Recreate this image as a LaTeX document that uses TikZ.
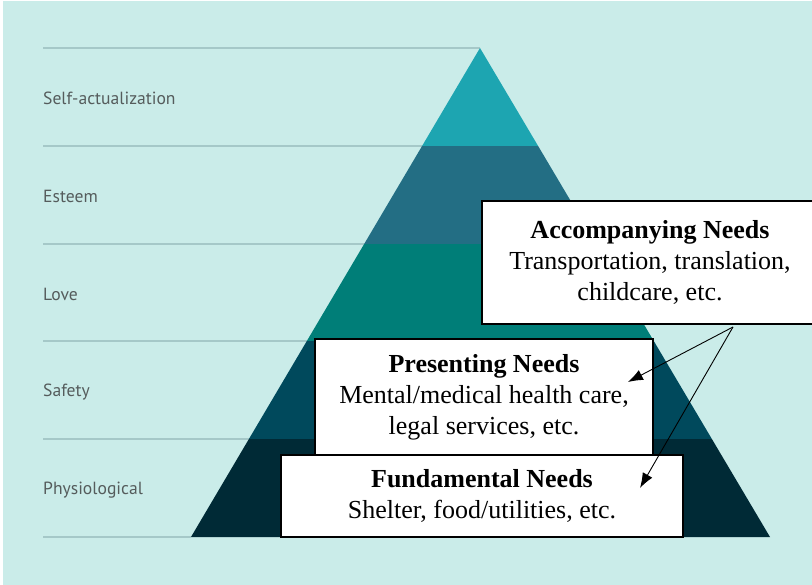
\documentclass[tikz,border=0pt]{standalone}
\usepackage{fontspec}
\setmainfont{Liberation Serif}
\newfontfamily\levelfont{PT Sans}
\usepackage{xcolor}
\usepackage{tikz}
\usetikzlibrary{arrows.meta}

\definecolor{bgcol}{RGB}{202,236,233}
\definecolor{selfcol}{RGB}{29,165,177}
\definecolor{esteemcol}{RGB}{35,110,132}
\definecolor{lovecol}{RGB}{0,126,120}
\definecolor{safetycol}{RGB}{0,73,92}
\definecolor{physcol}{RGB}{0,42,54}
\definecolor{rulecol}{RGB}{165,200,200}
\definecolor{levelcol}{RGB}{85,92,92}

\tikzset{
  rule/.style={rulecol, line width=2pt},
  levellabel/.style={anchor=west, inner sep=0pt, text=levelcol, font=\levelfont\fontsize{17.6}{20}\selectfont},
  needbox/.style={draw=black, fill=white, line width=1.2pt, align=center, inner sep=0pt,
                  font=\fontsize{26}{31}\selectfont},
  pointer/.style={-{Latex[length=15pt,width=11pt]}, line width=0.9pt}
}

\begin{document}
\begin{tikzpicture}[x=1pt, y=-1pt]

\useasboundingbox (0,0) rectangle (812,585);
\clip (0,0) rectangle (812,585);
\fill [white] (0,0) rectangle (812,585);
\fill [bgcol] (3,1) rectangle (812,585);

% Level lines
\coordinate (apex) at (480,48);
\coordinate (bl) at (191,537);
\coordinate (br) at (770,537);
\draw [rule] (43,48) -- (apex);
\foreach \i in {1,...,4}
  \draw [rule] (43, 48+97.8*\i) -- (480, 48+97.8*\i);
\draw [rule] (43,537) -- (bl);

% Pyramid
\begin{scope}
\clip (apex) -- (br) -- (bl) -- cycle;
\fill [selfcol] (0,40) rectangle (812,145.8);
\fill [esteemcol] (0,145.8) rectangle (812,243.6);
\fill [lovecol] (0,243.6) rectangle (812,341.4);
\fill [safetycol] (0,341.4) rectangle (812,439.2);
\fill [physcol] (0,439.2) rectangle (812,540);
\end{scope}

% Level names
\node [levellabel] (self) at (43,98.5) {Self-actualization};
\node [levellabel] (esteem) at (43,196.5) {Esteem};
\node [levellabel] (love) at (43,294.5) {Love};
\node [levellabel] (safety) at (43,392.5) {Safety};
\node [levellabel] (phys) at (43,490.5) {Physiological};

% Needs
\node [needbox, minimum width=402, minimum height=82] (fund) at (482,496)
  {\textbf{Fundamental Needs}\\Shelter, food/utilities, etc.};
\node [needbox, minimum width=338, minimum height=116] (pres) at (484,397)
  {\textbf{Presenting Needs}\\Mental/medical health care,\\legal services, etc.};
\node [needbox, minimum width=336, minimum height=123] (acc) at (650,262.5)
  {\textbf{Accompanying Needs}\\Transportation, translation,\\childcare, etc.};

% Arrows
\coordinate (fork) at (733,327);
\coordinate (prestip) at (628,382);
\coordinate (fundtip) at (640,488);
\draw [pointer] (fork) -- (prestip);
\draw [pointer] (fork) -- (fundtip);

\end{tikzpicture}
\end{document}
